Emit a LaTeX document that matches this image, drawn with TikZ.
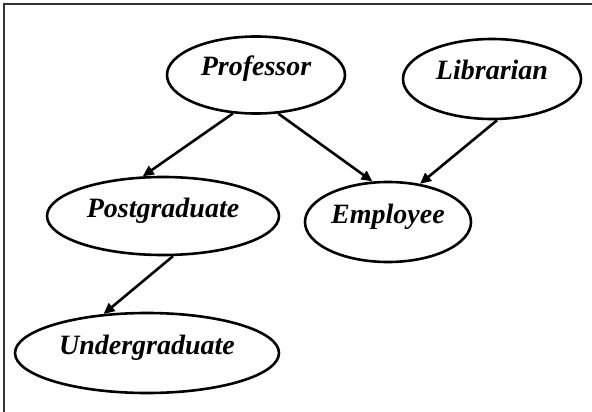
\documentclass[tikz,border=0pt]{standalone}
\usepackage{fontspec}
\setmainfont{Liberation Serif}
\usetikzlibrary{shapes.geometric,arrows.meta}
\newcommand\ellbl[1]{\makebox[0pt]{\smash{\raisebox{-1pt}{#1}}}}
\begin{document}
\begin{tikzpicture}[x=1pt,y=-1pt,
  ell/.style={draw, ellipse, line width=2.6pt, inner sep=0pt,
    font=\fontsize{28}{28}\selectfont\bfseries\itshape},
  conn/.style={line width=2.6pt, -{Triangle[length=11pt,width=10pt]}},
  frame/.style={line width=1.6pt, black!80}]
\useasboundingbox (0,0) rectangle (592,412);
\coordinate (tl) at (4,4);
\coordinate (tr) at (592,4);
\coordinate (bl) at (4,412);
\draw[frame] (tr) -- (tl) -- (bl);
\node[ell, minimum width=178pt, minimum height=77pt] (prof) at (256,75) {\ellbl{Professor}};
\node[ell, minimum width=178pt, minimum height=80pt] (lib) at (492,79) {\ellbl{Librarian}};
\node[ell, minimum width=232pt, minimum height=78pt] (post) at (163,216) {\ellbl{Postgraduate}};
\node[ell, minimum width=166pt, minimum height=80pt] (emp) at (388,222) {\ellbl{Employee}};
\node[ell, minimum width=264pt, minimum height=80pt] (under) at (147,353) {\ellbl{Undergraduate}};
\draw[conn] (prof.239) -- (post.117);
\draw[conn] (prof.300) -- (emp.111);
\draw[conn] (lib.277) -- (emp.50);
\draw[conn] (post.284) -- (under.138);
\end{tikzpicture}
\end{document}
